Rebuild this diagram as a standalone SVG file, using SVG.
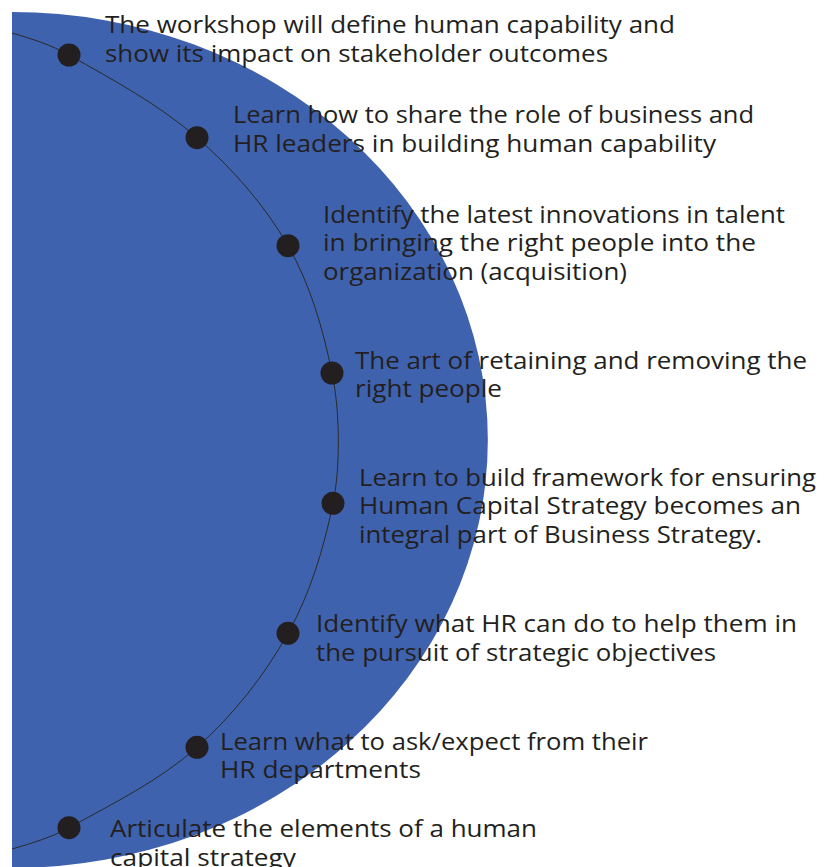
<svg xmlns="http://www.w3.org/2000/svg" width="830" height="867" viewBox="0 0 830 867">
  <style>
    .label { font-family: "Open Sans", "Liberation Sans", sans-serif; font-size: 24px; fill: #231F20; }
    .dot { fill: #231F20; }
    .track { fill: none; stroke: #2a2a2a; stroke-width: 1; }
  </style>
  <rect width="830" height="867" fill="#ffffff"/>
  <!-- large half-ellipse backdrop -->
  <path id="backdrop" d="M12,12 A476,428 0 0 1 12,868 Z" fill="#3F62AE"/>

  <!-- curved track that links the points -->
  <g id="connectors">
    <path class="track" d="M12,33 C31.6,38.7 51.3,45 69,55 C113.2,80 158.7,104.3 197,137.7 C232.5,168.6 264.5,204.9 288,245.7 C310.4,284.6 323,329 332,373 C336.6,395.3 338.3,418.2 338.3,441 C338.3,461.8 337.2,482.9 333,503.3 C323.8,548.3 310.4,593.2 288,633.3 C264.3,675.8 233.4,715 197,747.3 C159.3,780.8 113.2,803.4 69,827.7 C51.2,837.5 31.5,843.3 12,849"/>
  </g>

  <g id="item1">
    <circle class="dot" cx="69" cy="55" r="11.5"/>
    <text class="label" x="105" y="33" textLength="570" lengthAdjust="spacingAndGlyphs">The workshop will define human capability and</text>
    <text class="label" x="105" y="62" textLength="503" lengthAdjust="spacingAndGlyphs">show its impact on stakeholder outcomes</text>
  </g>
  <g id="item2">
    <circle class="dot" cx="197" cy="137.7" r="11.5"/>
    <text class="label" x="233" y="123" textLength="521" lengthAdjust="spacingAndGlyphs">Learn how to share the role of business and</text>
    <text class="label" x="233" y="152" textLength="483" lengthAdjust="spacingAndGlyphs">HR leaders in building human capability</text>
  </g>
  <g id="item3">
    <circle class="dot" cx="288" cy="245.7" r="11.5"/>
    <text class="label" x="323" y="222.5" textLength="462" lengthAdjust="spacingAndGlyphs">Identify the latest innovations in talent</text>
    <text class="label" x="323" y="251" textLength="433" lengthAdjust="spacingAndGlyphs">in bringing the right people into the</text>
    <text class="label" x="323" y="279.5" textLength="304" lengthAdjust="spacingAndGlyphs">organization (acquisition)</text>
  </g>
  <g id="item4">
    <circle class="dot" cx="332" cy="373" r="11.5"/>
    <text class="label" x="355" y="368.5" textLength="452" lengthAdjust="spacingAndGlyphs">The art of retaining and removing the</text>
    <text class="label" x="355" y="397" textLength="147" lengthAdjust="spacingAndGlyphs">right people</text>
  </g>
  <g id="item5">
    <circle class="dot" cx="333" cy="503.3" r="11.5"/>
    <text class="label" x="359" y="485.5" textLength="457" lengthAdjust="spacingAndGlyphs">Learn to build framework for ensuring</text>
    <text class="label" x="359" y="514" textLength="442" lengthAdjust="spacingAndGlyphs">Human Capital Strategy becomes an</text>
    <text class="label" x="359" y="542.5" textLength="403" lengthAdjust="spacingAndGlyphs">integral part of Business Strategy.</text>
  </g>
  <g id="item6">
    <circle class="dot" cx="288" cy="633.3" r="11.5"/>
    <text class="label" x="316" y="632" textLength="481" lengthAdjust="spacingAndGlyphs">Identify what HR can do to help them in</text>
    <text class="label" x="316" y="660.5" textLength="400" lengthAdjust="spacingAndGlyphs">the pursuit of strategic objectives</text>
  </g>
  <g id="item7">
    <circle class="dot" cx="197" cy="747.3" r="11.5"/>
    <text class="label" x="220" y="749.5" textLength="428" lengthAdjust="spacingAndGlyphs">Learn what to ask/expect from their</text>
    <text class="label" x="220" y="778" textLength="201" lengthAdjust="spacingAndGlyphs">HR departments</text>
  </g>
  <g id="item8">
    <circle class="dot" cx="69" cy="827.7" r="11.5"/>
    <text class="label" x="110" y="837" textLength="427" lengthAdjust="spacingAndGlyphs">Articulate the elements of a human</text>
    <text class="label" x="110" y="866" textLength="186" lengthAdjust="spacingAndGlyphs">capital strategy</text>
  </g>
</svg>
